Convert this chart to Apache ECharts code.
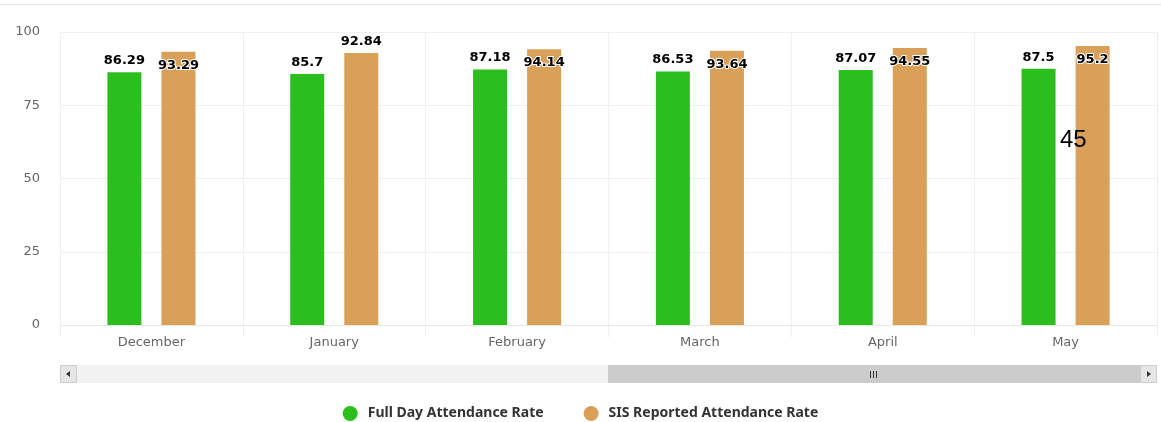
<!DOCTYPE html>
<html>
<head>
<meta charset="utf-8">
<style>
  html, body { margin: 0; padding: 0; background: #fff; }
  #chart-container { width: 1161px; height: 422px; }
</style>
<script src="https://cdn.jsdelivr.net/npm/echarts@6/dist/echarts.min.js"></script>
</head>
<body>
<div id="chart-container"></div>
<script>
var months = ['December', 'January', 'February', 'March', 'April', 'May'];
var fullDayRate = [86.29, 85.7, 87.18, 86.53, 87.07, 87.5];
var sisRate = [93.29, 92.84, 94.14, 93.64, 94.55, 95.2];
var yTicks = [0, 25, 50, 75, 100];

var dom = document.getElementById('chart-container');
var myChart = echarts.init(dom, null, { renderer: 'canvas', useDirtyRect: false });

var font = 'DejaVu Sans';

// orange labels sit inside the bar top, except January which is above
var sisData = sisRate.map(function (v, i) {
  return {
    value: v,
    label: { position: i === 1 ? 'top' : 'insideTop', distance: i === 1 ? 5 : 7 }
  };
});

var option = {
  animation: false,
  textStyle: { fontFamily: font },
  grid: { left: 60, right: 4, top: 32, bottom: 97 },
  legend: {
    top: 401,
    left: 'center',
    icon: 'circle',
    itemWidth: 15,
    itemHeight: 15,
    itemGap: 40,
    textStyle: {
      fontFamily: 'Noto Sans',
      fontSize: 14,
      fontWeight: 'bold',
      color: '#333',
      padding: [0, 0, 0, 5]
    },
    data: ['Full Day Attendance Rate', 'SIS Reported Attendance Rate']
  },
  xAxis: {
    type: 'category',
    data: months,
    axisLine: { lineStyle: { color: '#e6e6e6' } },
    axisTick: { show: true, length: 12, lineStyle: { color: '#eeeeee' } },
    axisLabel: { color: '#666', fontSize: 13, margin: 11, fontFamily: font },
    splitLine: { show: true, lineStyle: { color: '#f0f0f0' } }
  },
  yAxis: {
    type: 'value',
    min: yTicks[0],
    max: yTicks[yTicks.length - 1],
    interval: yTicks[1] - yTicks[0],
    axisLabel: { color: '#666', fontSize: 13, margin: 20, fontFamily: font },
    axisLine: { show: false },
    splitLine: { lineStyle: { color: '#f0f0f0' } }
  },
  series: [
    {
      name: 'Full Day Attendance Rate',
      type: 'bar',
      data: fullDayRate,
      barWidth: 34,
      barGap: '59%',
      itemStyle: { color: '#2bbf1d' },
      label: {
        show: true,
        position: 'top',
        distance: 5,
        fontFamily: font,
        fontSize: 13,
        fontWeight: 'bold',
        color: '#000'
      }
    },
    {
      name: 'SIS Reported Attendance Rate',
      type: 'bar',
      data: sisData,
      barWidth: 34,
      itemStyle: { color: '#d9a05a' },
      label: {
        show: true,
        fontFamily: font,
        fontSize: 13,
        fontWeight: 'bold',
        color: '#000',
        textBorderColor: '#fff',
        textBorderWidth: 2
      }
    }
  ],
  graphic: [
    // top border line
    { type: 'line', shape: { x1: 0, y1: 4.5, x2: 1161, y2: 4.5 }, style: { stroke: '#e6e6e6', lineWidth: 1 } },
    // scrollbar track + thumb
    { type: 'rect', shape: { x: 60, y: 365, width: 1097, height: 18 }, style: { fill: '#f2f2f2' } },
    { type: 'rect', shape: { x: 608, y: 365, width: 532, height: 18 }, style: { fill: '#cccccc' } },
    { type: 'line', shape: { x1: 870.5, y1: 371, x2: 870.5, y2: 378 }, style: { stroke: '#333', lineWidth: 1 } },
    { type: 'line', shape: { x1: 873.5, y1: 371, x2: 873.5, y2: 378 }, style: { stroke: '#333', lineWidth: 1 } },
    { type: 'line', shape: { x1: 876.5, y1: 371, x2: 876.5, y2: 378 }, style: { stroke: '#333', lineWidth: 1 } },
    // scrollbar buttons
    { type: 'rect', shape: { x: 60.5, y: 365.5, width: 16, height: 17 }, style: { fill: '#e6e6e6', stroke: '#cccccc', lineWidth: 1 } },
    { type: 'polygon', shape: { points: [[70, 371], [70, 377], [66, 374]] }, style: { fill: '#333' } },
    { type: 'rect', shape: { x: 1140.5, y: 365.5, width: 16, height: 17 }, style: { fill: '#e6e6e6', stroke: '#cccccc', lineWidth: 1 } },
    { type: 'polygon', shape: { points: [[1147, 371], [1147, 377], [1151, 374]] }, style: { fill: '#333' } },
    // stray annotation
    { type: 'text', z: 100, left: 1060, top: 128, style: { text: '45', font: '24px "Liberation Sans", Arial', fill: '#000' } }
  ]
};

myChart.setOption(option);

window.addEventListener('resize', () => {
  myChart.resize();
});
</script>
</body>
</html>
